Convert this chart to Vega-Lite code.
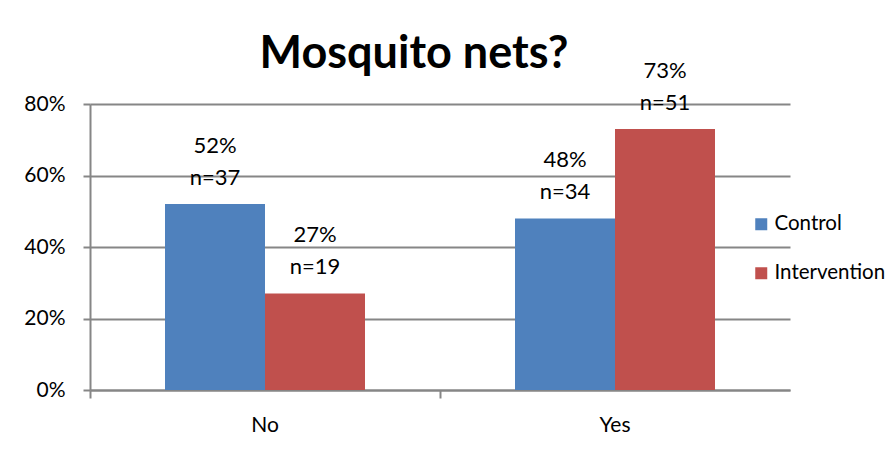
{
  "$schema": "https://vega.github.io/schema/vega-lite/v6.json",
  "width": 700,
  "height": 286,
  "autosize": {"type": "none"},
  "padding": {"left": 90, "top": 104, "right": 98, "bottom": 64},
  "background": "white",
  "title": {
    "text": "Mosquito nets?",
    "font": "Lato",
    "fontSize": 45,
    "fontWeight": "bold",
    "color": "#000000",
    "anchor": "middle",
    "dx": -26,
    "offset": -17
  },
  "data": {
    "values": [
      {"answer": "No", "group": "Control", "pct": 0.52, "n": 37},
      {"answer": "No", "group": "Intervention", "pct": 0.27, "n": 19},
      {"answer": "Yes", "group": "Control", "pct": 0.48, "n": 34},
      {"answer": "Yes", "group": "Intervention", "pct": 0.73, "n": 51}
    ]
  },
  "transform": [
    {"calculate": "'n=' + datum.n", "as": "nlabel"}
  ],
  "encoding": {
    "x": {
      "field": "answer",
      "type": "nominal",
      "sort": ["No", "Yes"],
      "scale": {"paddingInner": 0, "paddingOuter": 0},
      "axis": {
        "title": null,
        "labelAngle": 0,
        "labelFont": "Lato",
        "labelFontSize": 21,
        "labelColor": "#000000",
        "labelPadding": 16,
        "bandPosition": 0,
        "tickSize": 8,
        "tickColor": "#868686",
        "tickWidth": 2,
        "domainColor": "#868686",
        "domainWidth": 2
      }
    },
    "xOffset": {
      "field": "group",
      "type": "nominal",
      "scale": {"paddingInner": 0, "paddingOuter": 0.75}
    },
    "y": {
      "field": "pct",
      "type": "quantitative",
      "scale": {"domain": [0, 0.8], "nice": false},
      "axis": {
        "title": null,
        "values": [0, 0.2, 0.4, 0.6, 0.8],
        "format": ".0%",
        "labelFont": "Lato",
        "labelFontSize": 21,
        "labelColor": "#000000",
        "labelPadding": 18,
        "tickSize": 7,
        "tickColor": "#868686",
        "tickWidth": 2,
        "domainColor": "#868686",
        "domainWidth": 2,
        "grid": true,
        "gridColor": "#868686",
        "gridWidth": 2
      }
    }
  },
  "layer": [
    {
      "mark": {"type": "bar"},
      "encoding": {
        "color": {
          "field": "group",
          "type": "nominal",
          "scale": {"domain": ["Control", "Intervention"], "range": ["#4F81BD", "#C0504D"]},
          "legend": {
            "title": null,
            "orient": "none",
            "legendX": 661,
            "legendY": 110,
            "symbolType": "square",
            "symbolSize": 144,
            "symbolStrokeWidth": 0,
            "labelFont": "Lato",
            "labelFontSize": 20.5,
            "labelColor": "#000000",
            "labelOffset": 3,
            "rowPadding": 28
          }
        }
      }
    },
    {
      "mark": {
        "type": "text",
        "baseline": "middle",
        "dy": -58,
        "font": "Lato",
        "fontSize": 22,
        "color": "#000000"
      },
      "encoding": {"text": {"field": "pct", "format": ".0%"}}
    },
    {
      "mark": {
        "type": "text",
        "baseline": "middle",
        "dy": -26,
        "font": "Lato",
        "fontSize": 22,
        "color": "#000000"
      },
      "encoding": {"text": {"field": "nlabel"}}
    }
  ],
  "config": {
    "view": {"stroke": null}
  }
}
